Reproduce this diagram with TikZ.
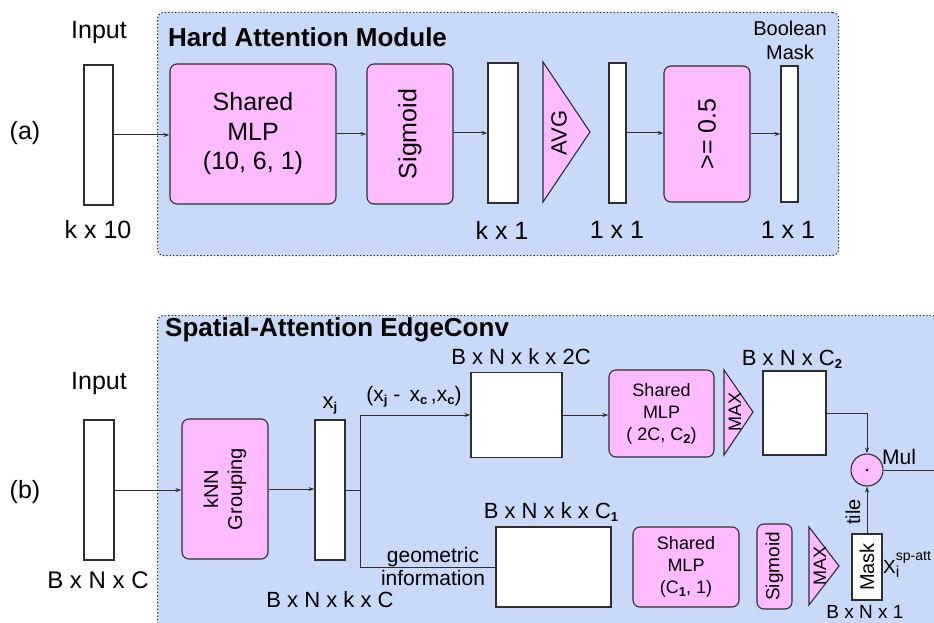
\documentclass[tikz,border=0pt]{standalone}
\usepackage{fontspec}
\setmainfont{Liberation Sans}
\usetikzlibrary{arrows.meta}
\definecolor{panelblue}{HTML}{C9DAF8}
\definecolor{pinkfill}{HTML}{FFBBFF}
\definecolor{edgegray}{HTML}{2E2E2E}
\newcommand{\fsz}[2]{\fontsize{#1}{#2}\selectfont}
\newcommand{\smsub}[1]{\raisebox{-3pt}{\fsz{13}{13}\bfseries #1}}
\begin{document}
\begin{tikzpicture}[x=1pt,y=-1pt,
  panel/.style={draw=edgegray, fill=panelblue, dash pattern=on 1.4pt off 2pt, rounded corners=6pt, line width=1pt, inner sep=0},
  pinkbox/.style={draw=edgegray, fill=pinkfill, rounded corners=7pt, line width=1.1pt, inner sep=0},
  bar/.style={draw=edgegray, fill=white, line width=1.1pt, inner sep=0},
  tri/.style={draw=edgegray, fill=pinkfill, line width=1.1pt, line join=miter},
  lbl/.style={inner sep=0, text=black},
  arr/.style={-{Stealth[length=6pt,width=4pt]}, line width=1pt, draw=edgegray},
  ln/.style={line width=1pt, draw=edgegray}]
\useasboundingbox (0,0) rectangle (934,623);
\clip (0,0) rectangle (934,623);

% ---------------- panel (a) ----------------
\node[panel, minimum width=681pt, minimum height=243pt, anchor=north west] (hpanel) at (157,12) {};
\node[lbl, anchor=west, font=\fsz{26}{30}\bfseries] (htitle) at (168,37) {Hard Attention Module};

\node[lbl, font=\fsz{25}{30}] (alabel) at (25,133) {(a)};
\node[lbl, font=\fsz{25}{30}] (ainput) at (99,32) {Input};
\node[bar, minimum width=29pt, minimum height=140pt] (in1) at (98.5,135) {};
\node[lbl, font=\fsz{25}{30}] (ain) at (98,230) {k x 10};

\node[pinkbox, minimum width=166pt, minimum height=140pt, align=center, font=\fsz{25}{29.5}] (mlp1) at (253,134) {Shared\\MLP\\(10, 6, 1)};
\node[pinkbox, minimum width=86pt, minimum height=140pt] (sig1) at (410,134) {};
\node[lbl, rotate=90, font=\fsz{25}{30}] (sig1t) at (410,134) {Sigmoid};
\node[bar, minimum width=30pt, minimum height=140pt] (k1) at (503,133) {};
\node[lbl, font=\fsz{25}{30}] (k1l) at (502,230) {k x 1};
\draw[tri] (543,62) -- (590,132) -- (543,202) -- cycle;
\node[lbl, rotate=90, font=\fsz{22}{26}] (avgt) at (559,133) {AVG};
\node[bar, minimum width=17pt, minimum height=140pt] (one1) at (617.5,133) {};
\node[lbl, font=\fsz{25}{30}] (one1l) at (617,230) {1 x 1};
\node[pinkbox, minimum width=86pt, minimum height=136pt] (ge) at (707,134) {};
\node[lbl, rotate=90, font=\fsz{25}{30}] (get) at (707,134) {>= 0.5};
\node[bar, minimum width=17pt, minimum height=136pt] (bm) at (789.5,134) {};
\node[lbl, font=\fsz{25}{30}] (bml) at (788,230) {1 x 1};
\node[lbl, align=center, font=\fsz{20}{24}] (boolt) at (790,40) {Boolean\\Mask};

\draw[arr] (in1.east |- 0,135) -- (mlp1.west |- 0,135);
\draw[arr] (mlp1.east |- 0,134) -- (sig1.west |- 0,134);
\draw[arr] (sig1.east |- 0,133) -- (k1.west |- 0,133);
\draw[arr] (one1.east |- 0,133) -- (ge.west |- 0,133);
\draw[arr] (ge.east |- 0,134) -- (bm.west |- 0,134);

% ---------------- panel (b) ----------------
\node[panel, minimum width=800pt, minimum height=330pt, anchor=north west] (spanel) at (157,315) {};
\node[lbl, anchor=west, font=\fsz{26}{30}\bfseries] (stitle) at (165,330) {Spatial-Attention EdgeConv};

\node[lbl, font=\fsz{25}{30}] (blabel) at (25,492) {(b)};
\node[lbl, font=\fsz{25}{30}] (binput) at (99,383) {Input};
\node[bar, minimum width=30pt, minimum height=140pt] (in2) at (99,490) {};
\node[lbl, font=\fsz{24}{28}] (in2l) at (98,580) {B x N x C};

\node[pinkbox, minimum width=86pt, minimum height=140pt] (knn) at (225,489) {};
\node[lbl, rotate=90, align=center, font=\fsz{20}{24}] (knnt) at (225,489) {kNN\\Grouping};

\node[bar, minimum width=30pt, minimum height=140pt] (xj) at (330,490) {};
\node[lbl, font=\fsz{22}{26}] (xjl) at (330,406) {x\smsub{j}};
\node[lbl, font=\fsz{22}{26}] (xjd) at (330,600) {B x N x k x C};

\node[bar, minimum width=91pt, minimum height=85pt] (r2c) at (516.5,415) {};
\node[lbl, font=\fsz{22}{26}] (r2cl) at (521,357) {B x N x k x 2C};
\node[lbl, font=\fsz{21}{26}] (difft) at (414,397) {(x\smsub{j} -\, x\smsub{c}\,,x\smsub{c})};

\node[bar, minimum width=115pt, minimum height=80pt] (r1c) at (553.5,567) {};
\node[lbl, font=\fsz{22}{26}] (r1cl) at (551,512) {B x N x k x C\smsub{1}};
\node[lbl, align=center, font=\fsz{21}{23}] (geot) at (433,566) {geometric\\information};

\node[pinkbox, minimum width=105pt, minimum height=87pt, align=center, font=\fsz{18}{22}] (mlp2) at (661.5,413.5) {Shared\\MLP\\( 2C, C\smsub{2})};
\draw[tri] (724,370) -- (753,412) -- (724,455) -- cycle;
\node[lbl, rotate=90, font=\fsz{18}{22}] (max1t) at (735,412) {MAX};
\node[bar, minimum width=63pt, minimum height=84pt] (c2) at (794.5,413) {};
\node[lbl, font=\fsz{22}{26}] (c2l) at (792,359) {B x N x C\smsub{2}};

\node[draw=edgegray, fill=pinkfill, line width=1.1pt, circle, minimum size=32pt, inner sep=0] (mul) at (867,470) {};
\fill[black] (mul.center) circle (1.3);
\node[lbl, anchor=west, font=\fsz{21}{26}] (mult) at (882,457) {Mul};

\node[pinkbox, minimum width=106pt, minimum height=80pt, align=center, font=\fsz{18}{22}] (mlp3) at (686,567) {Shared\\MLP\\(C\smsub{1}, 1)};
\node[pinkbox, minimum width=35pt, minimum height=85pt] (sig2) at (774.5,566.5) {};
\node[lbl, rotate=90, font=\fsz{19}{22}] (sig2t) at (774.5,566.5) {Sigmoid};
\draw[tri] (809,527) -- (839,566) -- (809,605) -- cycle;
\node[lbl, rotate=90, font=\fsz{18}{22}] (max2t) at (820,566) {MAX};
\node[bar, minimum width=30pt, minimum height=66pt] (maskb) at (867,567) {};
\node[lbl, rotate=90, font=\fsz{20}{24}] (maskt) at (867,567) {Mask};
\node[lbl, rotate=90, font=\fsz{20}{24}] (tilet) at (853,512) {tile};
\node[lbl, anchor=base west, font=\fsz{19}{22}] (xsp) at (883,573) {X\rlap{\raisebox{13pt}{\fsz{14}{14}sp-att}}\raisebox{-4pt}{\fsz{16}{16}i}};
\node[lbl, font=\fsz{19}{22}] (maskl) at (865,612) {B x N x 1};

% connectors (b)
\draw[arr] (in2.east) -- (knn.west |- in2.east);
\draw[arr] (knn.east) -- (xj.west |- knn.east);
\coordinate (jn) at (360,490);
\draw[ln] (xj.east) -- (jn);
\draw[arr] (jn) |- (r2c.west);
\draw[ln] (jn) |- (r1c.west);
\draw[arr] (r2c.east) -- (mlp2.west |- r2c.east);
\draw[arr] (c2.east) -| (mul.north);
\draw[arr] (maskb.north) -- (mul.south);
\coordinate (mulout) at (950,470);
\draw[ln] (mul.east) -- (mulout);
\end{tikzpicture}
\end{document}
